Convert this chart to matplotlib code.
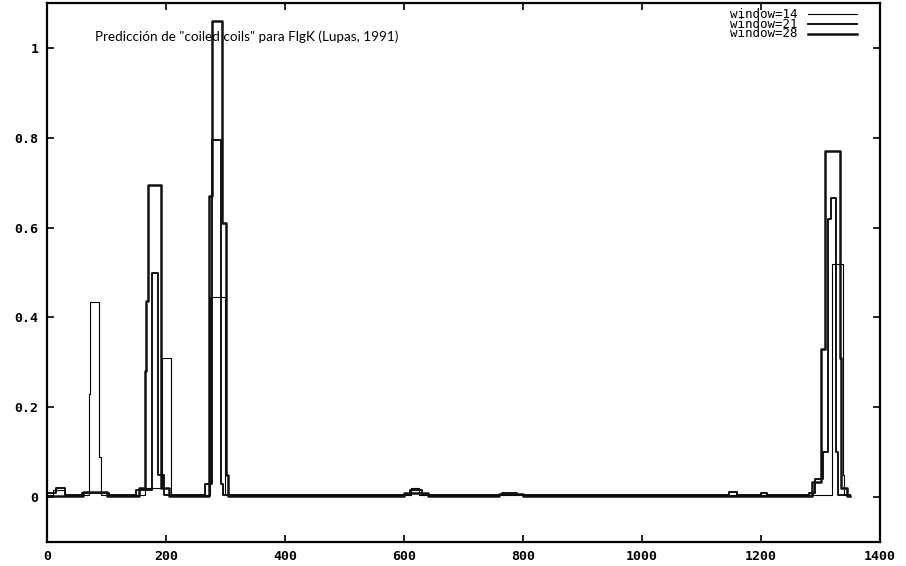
import matplotlib
matplotlib.use("Agg")
import matplotlib.pyplot as plt
from matplotlib.font_manager import FontProperties
from matplotlib.lines import Line2D

# ---- data (step functions: start position of each step, value of step) ----
w14_x = [0, 10, 30, 70, 73, 87, 90, 165, 193, 209, 274, 299, 612, 625, 1320, 1337, 1340, 1350]
w14_y = [0.005, 0.015, 0.005, 0.23, 0.435, 0.09, 0.005, 0.02, 0.31, 0.005, 0.445, 0.005, 0.02, 0.004, 0.52, 0.05, 0.004, 0.004]

w21_x = [0, 15, 30, 58, 105, 150, 176, 186, 196, 265, 277, 292, 296, 610, 630, 765, 790, 1147, 1160, 1200, 1210,
         1280, 1290, 1304, 1312, 1317, 1326, 1330, 1350]
w21_y = [0.01, 0.02, 0.005, 0.01, 0.005, 0.015, 0.5, 0.05, 0.005, 0.03, 0.795, 0.03, 0.004, 0.015, 0.004, 0.01, 0.004,
         0.012, 0.004, 0.008, 0.004, 0.01, 0.04, 0.1, 0.62, 0.665, 0.1, 0.005, 0.005]

w28_x = [0, 60, 100, 155, 165, 166, 170, 191, 205, 273, 277, 294, 301, 305, 600, 640, 760, 800,
         1286, 1301, 1308, 1333, 1335, 1345, 1350]
w28_y = [0.003, 0.012, 0.003, 0.02, 0.28, 0.437, 0.695, 0.02, 0.003, 0.67, 1.06, 0.61, 0.05, 0.003, 0.008, 0.003,
         0.006, 0.003, 0.034, 0.33, 0.77, 0.31, 0.02, 0.003, 0.003]

series_labels = ["window=14", "window=21", "window=28"]
x_ticks = [0, 200, 400, 600, 800, 1000, 1200, 1400]
y_ticks = [0, 0.2, 0.4, 0.6, 0.8, 1]
y_tick_labels = ["0", "0.2", "0.4", "0.6", "0.8", "1"]
title_text = 'Predicción de "coiled coils" para FlgK (Lupas, 1991)'

fig = plt.figure(figsize=(9.06, 5.66), dpi=100)
ax = fig.add_axes([47 / 906, 24 / 566, (880 - 47) / 906, (563 - 24) / 566])

widths = [0.8, 1.3, 1.8]
colors = ["black", "black", "#111111"]
lines = []
for (xs, ys), lw, c, lab in zip([(w14_x, w14_y), (w21_x, w21_y), (w28_x, w28_y)], widths, colors, series_labels):
    ln, = ax.step(xs, ys, where="post", color=c, lw=lw, label=lab)
    lines.append(ln)

ax.set_xlim(0, 1400)
ax.set_ylim(-0.1, 1.1)
ax.set_xticks(x_ticks)
ax.set_xticklabels([str(v) for v in x_ticks])
ax.set_yticks(y_ticks)
ax.set_yticklabels(y_tick_labels)

mono = FontProperties(family="DejaVu Sans Mono", weight="bold", size=9.5)
for lab in ax.get_xticklabels() + ax.get_yticklabels():
    lab.set_fontproperties(mono)

ax.tick_params(direction="in", length=5, width=1.2, top=True, right=True,
               pad=6, colors="black")
for s in ax.spines.values():
    s.set_linewidth(1.6)
    s.set_color("black")

fig.text(95 / 906, 1 - 37 / 566, title_text, fontsize=9.7, family="Lato",
         va="center", ha="left", color="black")

# gnuplot-style key (text right-justified, sample line after it)
row_y = [1 - (14 - 3) / 539, 1 - (24 - 3) / 539, 1 - (34 - 3) / 539]
ax.text((797 - 47) / 833, row_y[1], "\n".join(series_labels), transform=ax.transAxes,
        ha="right", va="center", multialignment="right", linespacing=0.68,
        family="DejaVu Sans Mono", fontsize=9, color="black")
for ln, yy in zip(lines, row_y):
    ax.add_line(Line2D([(808 - 47) / 833, (857 - 47) / 833], [yy, yy], transform=ax.transAxes,
                       color=ln.get_color(), lw=ln.get_linewidth(), clip_on=False))

fig.savefig("out.png", dpi=100, facecolor="white")
